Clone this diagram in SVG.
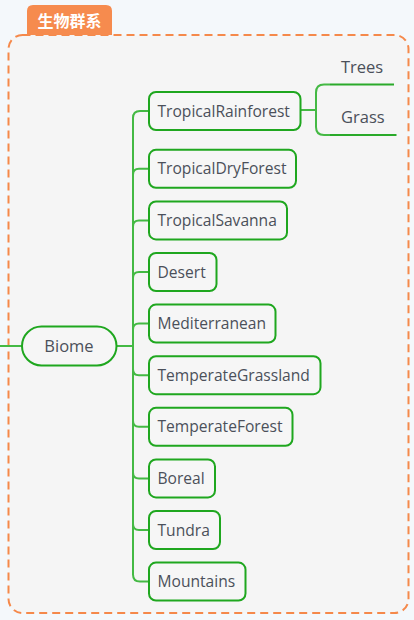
<svg xmlns="http://www.w3.org/2000/svg" width="414" height="620" viewBox="0 0 414 620">
<style>
.bg{fill:#F4F8FB}
.frame{fill:#F5F5F5;stroke:#F5894B;stroke-width:2;stroke-dasharray:8 5}
.tab{fill:#F68B4E}
.tabt{font-family:"Noto Sans CJK SC","Noto Sans",sans-serif;font-size:16px;font-weight:bold;fill:#FFFFFF}
.node rect{fill:#F6F6F6;stroke:#1FA71F;stroke-width:2}
.t{font-family:"Open Sans","Noto Sans",sans-serif;font-size:15.6px;fill:#4B505A}
.ct{font-size:16.5px}
.conn path{fill:none;stroke:#44B944;stroke-width:2}
.ul{fill:none;stroke:#2AAA2A;stroke-width:2}
</style>
<rect class="bg" x="0" y="0" width="414" height="620"/>
<rect class="frame" x="8.5" y="35" width="400" height="578" rx="14"/>
<g id="label">
<path class="tab" d="M27,35 V11 Q27,5 33,5 H106 Q112,5 112,11 V35 Z"/>
<text class="tabt" x="69.5" y="26.5" text-anchor="middle">生物群系</text>
</g>
<g class="conn" id="connectors">
<path d="M0,346 H22"/>
<path d="M116.5,346 H133"/>
<path d="M149,111 H140 Q133,111 133,118 V574.6 Q133,581.6 140,581.6 H149"/>
<path d="M133,174.8 Q133,168.8 139,168.8 H149"/>
<path d="M133,226.4 Q133,220.4 139,220.4 H149"/>
<path d="M133,278 Q133,272 139,272 H149"/>
<path d="M133,329.6 Q133,323.6 139,323.6 H149"/>
<path d="M133,369.2 Q133,375.2 139,375.2 H149"/>
<path d="M133,420.8 Q133,426.8 139,426.8 H149"/>
<path d="M133,472.4 Q133,478.4 139,478.4 H149"/>
<path d="M133,524 Q133,530 139,530 H149"/>
<path d="M300.5,110 H316"/>
<path d="M316,110 V92.5 Q316,84.5 324,84.5 H330"/>
<path d="M316,110 V127 Q316,135 324,135 H330"/>
</g>
<g class="node" id="biome">
<rect x="22" y="326.5" width="94.5" height="39" rx="19.5"/>
<text class="t" x="69" y="352" text-anchor="middle" style="font-size:16.5px">Biome</text>
</g>
<g class="node" id="tropical-rainforest">
<rect x="149" y="92" width="151.5" height="38" rx="7"/>
<text class="t" x="157.5" y="116.5">TropicalRainforest</text>
</g>
<g class="node" id="trees">
<path class="ul" d="M330,84.5 H394"/>
<text class="t ct" x="341" y="72.5">Trees</text>
</g>
<g class="node" id="grass">
<path class="ul" d="M330,135 H396.5"/>
<text class="t ct" x="341" y="122.5">Grass</text>
</g>
<g class="node" id="tropical-dry-forest">
<rect x="149" y="149.8" width="147" height="38" rx="7"/>
<text class="t" x="157.5" y="174.3">TropicalDryForest</text>
</g>
<g class="node" id="tropical-savanna">
<rect x="149" y="201.4" width="138" height="38" rx="7"/>
<text class="t" x="157.5" y="225.9">TropicalSavanna</text>
</g>
<g class="node" id="desert">
<rect x="149" y="253" width="67.5" height="38" rx="7"/>
<text class="t" x="157.5" y="277.5">Desert</text>
</g>
<g class="node" id="mediterranean">
<rect x="149" y="304.6" width="126.5" height="38" rx="7"/>
<text class="t" x="157.5" y="329.1">Mediterranean</text>
</g>
<g class="node" id="temperate-grassland">
<rect x="149" y="356.2" width="171.5" height="38" rx="7"/>
<text class="t" x="157.5" y="380.7">TemperateGrassland</text>
</g>
<g class="node" id="temperate-forest">
<rect x="149" y="407.8" width="143.5" height="38" rx="7"/>
<text class="t" x="157.5" y="432.3">TemperateForest</text>
</g>
<g class="node" id="boreal">
<rect x="149" y="459.4" width="66" height="38" rx="7"/>
<text class="t" x="157.5" y="483.9">Boreal</text>
</g>
<g class="node" id="tundra">
<rect x="149" y="511" width="71" height="38" rx="7"/>
<text class="t" x="157.5" y="535.5">Tundra</text>
</g>
<g class="node" id="mountains">
<rect x="149" y="562.6" width="96.5" height="38" rx="7"/>
<text class="t" x="157.5" y="587.1">Mountains</text>
</g>
</svg>
